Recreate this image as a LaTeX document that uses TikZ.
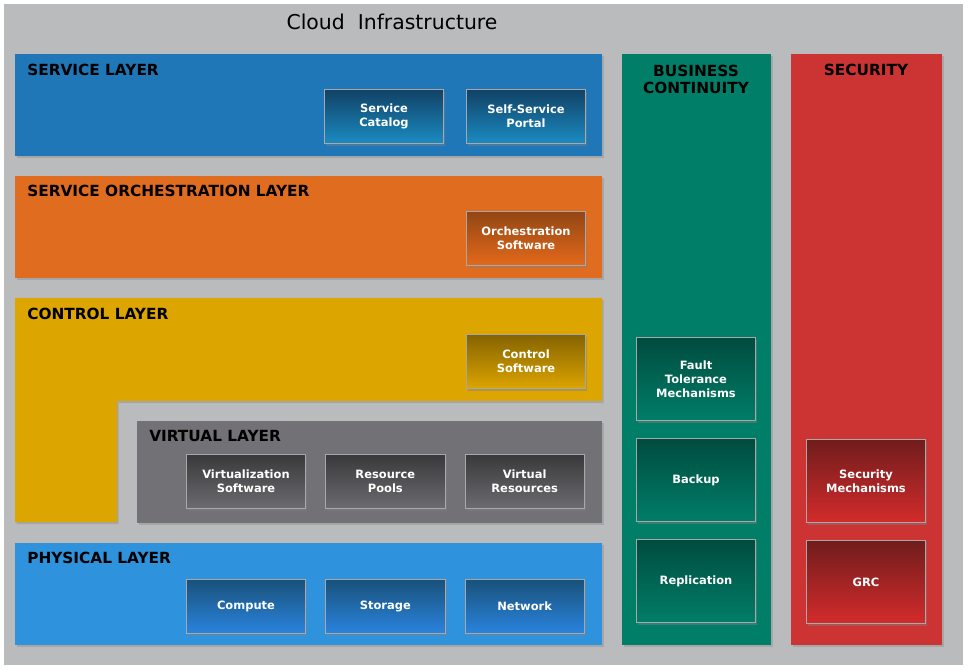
\documentclass[tikz,border=0pt]{standalone}
\usepackage{fontspec}
\setmainfont{DejaVu Sans}
\usetikzlibrary{positioning, shadows}
\definecolor{canvasgray}{HTML}{BABBBD}
\definecolor{servblue}{HTML}{1F77B8}
\definecolor{orchorange}{HTML}{E06C1F}
\definecolor{ctrlgold}{HTML}{DDA500}
\definecolor{virtgray}{HTML}{727276}
\definecolor{physblue}{HTML}{2E93DC}
\definecolor{bcgreen}{HTML}{007E68}
\definecolor{secred}{HTML}{CC3333}
\definecolor{unitedge}{HTML}{A8A8AA}

\begin{document}
\begin{tikzpicture}[
        x=0.75pt, y=-0.75pt,
        band/.style={drop shadow={shadow xshift=1.2pt, shadow yshift=-1.6pt,
          opacity=0.35}},
        lyrtitle/.style={anchor=west, inner sep=0pt,
          font=\fontsize{11.5}{13}\selectfont\bfseries},
        coltitle/.style={align=center, inner sep=0pt,
          font=\fontsize{11.5}{12.8}\selectfont\bfseries},
        unit/.style={rectangle, draw=unitedge, line width=0.6pt,
          minimum width=89.4pt, minimum height=40.8pt, align=center,
          text=white, font=\fontsize{8.6}{10.4}\selectfont\bfseries,
          drop shadow={shadow xshift=1.2pt, shadow yshift=-1.6pt,
            opacity=0.45}},
        servunit/.style={unit, top color=servblue!55!black, bottom color=servblue!85!cyan},
        orchunit/.style={unit, top color=orchorange!65!black, bottom color=orchorange!90!red!95!yellow},
        ctrlunit/.style={unit, top color=ctrlgold!60!black, bottom color=ctrlgold},
        virtunit/.style={unit, top color=virtgray!50!black, bottom color=virtgray!95!black},
        physunit/.style={unit, top color=physblue!55!black, bottom color=physblue!90!blue},
        bcunit/.style={unit, minimum height=62.6pt, top color=bcgreen!60!black, bottom color=bcgreen},
        secunit/.style={unit, minimum height=62.6pt, top color=secred!55!black, bottom color=secred!85!red},
      ]
        \useasboundingbox (0,0) rectangle (968,670);
        \fill[white] (0,0) rectangle (968,670);
        \fill[canvasgray] (4,4) rectangle (963,665);

        \node[font=\fontsize{15.3}{18}\selectfont] (title) at (392,22) {Cloud~~Infrastructure};

        % layer bands
        \path[fill=servblue, band] (15,54) rectangle (602,156);
        \path[fill=orchorange, band] (15,176) rectangle (602,278);
        \path[fill=ctrlgold, band] (15,298) -- (602,298) -- (602,401)
          -- (117,401) -- (117,522) -- (15,522) -- cycle;
        \path[fill=virtgray, band] (137,421) rectangle (602,523);
        \path[fill=physblue, band] (15,543) rectangle (602,645);
        \path[fill=bcgreen, band] (622,54) rectangle (771,645);
        \path[fill=secred, band] (791,54) rectangle (942,645);

        \node[lyrtitle] (servt) at (27,70) {SERVICE LAYER};
        \node[lyrtitle] (orcht) at (27,191) {SERVICE ORCHESTRATION LAYER};
        \node[lyrtitle] (ctrlt) at (27,314) {CONTROL LAYER};
        \node[lyrtitle] (virtt) at (149,436) {VIRTUAL LAYER};
        \node[lyrtitle] (physt) at (27,558) {PHYSICAL LAYER};
        \node[coltitle] (bct) at (696,79) {BUSINESS\\CONTINUITY};
        \node[coltitle] (sect) at (866,70) {SECURITY};

        % service layer
        \node[servunit, anchor=north west] (portal) at (466,89) {Self-Service\\Portal};
        \node[servunit, left=16.5pt of portal] (catalog) {Service\\Catalog};

        % orchestration and control
        \node[orchunit, anchor=north west] (orchsw) at (466,211) {Orchestration\\Software};
        \node[ctrlunit, anchor=north west] (ctrlsw) at (466,334) {Control\\Software};

        % virtual layer
        \node[virtunit, anchor=north west] (virtsw) at (186,454) {Virtualization\\Software};
        \node[virtunit, right=14.5pt of virtsw] (pools) {Resource\\Pools};
        \node[virtunit, right=14.5pt of pools] (virtres) {Virtual\\Resources};

        % physical layer
        \node[physunit, anchor=north west] (compute) at (186,579) {Compute};
        \node[physunit, right=14.5pt of compute] (storage) {Storage};
        \node[physunit, right=14.5pt of storage] (network) {Network};

        % business continuity
        \node[bcunit, anchor=north west] (fault) at (636,337) {Fault\\Tolerance\\Mechanisms};
        \node[bcunit, below=12.5pt of fault] (backup) {Backup};
        \node[bcunit, below=12.5pt of backup] (replic) {Replication};

        % security
        \node[secunit, anchor=north west] (secmech) at (806,439) {Security\\Mechanisms};
        \node[secunit, below=12.5pt of secmech] (grc) {GRC};
      \end{tikzpicture}
\end{document}
